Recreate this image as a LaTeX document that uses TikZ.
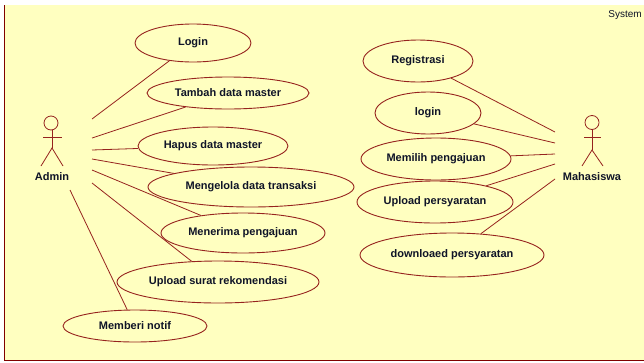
\documentclass[tikz,border=0pt]{standalone}
\usepackage{fontspec}
\setmainfont{Liberation Sans}
\usetikzlibrary{shapes.geometric}
\definecolor{bgyellow}{RGB}{255,255,192}
\definecolor{framered}{RGB}{128,0,0}
\definecolor{ucline}{RGB}{150,35,30}
\definecolor{txt}{RGB}{15,20,40}
\begin{document}
\begin{tikzpicture}[x=1pt,y=-1pt,
  usecase/.style={ellipse,draw=ucline,line width=0.9pt,inner sep=0pt,
    font=\bfseries\fontsize{11}{13}\selectfont,text=txt},
  assoc/.style={draw=ucline,line width=0.8pt},
  stick/.style={draw=ucline,line width=0.8pt},
  actorlbl/.style={font=\bfseries\fontsize{11}{13}\selectfont,text=txt,inner sep=0pt},
  syslbl/.style={font=\fontsize{10}{12}\selectfont,text=txt,inner sep=0pt}]
\useasboundingbox (0,0) rectangle (644,362);
\fill[white] (0,0) rectangle (644,362);
\fill[bgyellow] (4,5) rectangle (644,361);
\draw[framered,line width=1pt] (4.5,5) -- (4.5,360.5) -- (644,360.5);
\node[syslbl,anchor=north east] (system) at (642,10) {System};

% Admin actor
\draw[stick] (51,123) circle[radius=7pt];
\draw[stick] (52,130) -- (52,148);
\draw[stick] (43,137.5) -- (62,137.5);
\draw[stick] (41,166) -- (52,148) -- (63,166);
\node[actorlbl] (admin) at (52,177) {Admin};

% Mahasiswa actor
\draw[stick] (592,122.5) circle[radius=7pt];
\draw[stick] (592,129.5) -- (592,150);
\draw[stick] (584,137.5) -- (601,137.5);
\draw[stick] (582,166) -- (592,150) -- (603,166);
\node[actorlbl] (mhs) at (592,177) {Mahasiswa};

% Admin use cases
\node[usecase,minimum width=116pt,minimum height=38pt] (login) at (193,43) {Login};
\node[usecase,minimum width=162pt,minimum height=32pt] (tambah) at (228,93) {Tambah data master};
\node[usecase,minimum width=150pt,minimum height=38pt] (hapus) at (213,146) {Hapus data master};
\node[usecase,minimum width=206pt,minimum height=40pt] (kelola) at (251,187) {Mengelola data transaksi};
\node[usecase,minimum width=164pt,minimum height=40pt] (terima) at (243,233) {Menerima pengajuan};
\node[usecase,minimum width=202pt,minimum height=42pt] (surat) at (218,282) {Upload surat rekomendasi};
\node[usecase,minimum width=144pt,minimum height=32pt] (notif) at (135,326) {Memberi notif};

% Mahasiswa use cases
\node[usecase,minimum width=110pt,minimum height=42pt] (regis) at (418,61) {Registrasi};
\node[usecase,minimum width=106pt,minimum height=42pt] (login2) at (428,113) {login};
\node[usecase,minimum width=150pt,minimum height=42pt] (pilih) at (436,159) {Memilih pengajuan};
\node[usecase,minimum width=156pt,minimum height=42pt] (upsyarat) at (435,202) {Upload persyaratan};
\node[usecase,minimum width=184pt,minimum height=44pt] (downsyarat) at (452,255) {downloaed persyaratan};

% connector start points
\coordinate (a1) at (92,119);
\coordinate (a2) at (92,138);
\coordinate (a3) at (92,150);
\coordinate (a4) at (92,159);
\coordinate (a5) at (92,170);
\coordinate (a6) at (92,183);
\coordinate (a7) at (70,190);
\coordinate (m1) at (555,132);
\coordinate (m2) at (555,143);
\coordinate (m3) at (555,154);
\coordinate (m4) at (555,164);
\coordinate (m5) at (555,179);

\draw[assoc] (a1) -- (login);
\draw[assoc] (a2) -- (tambah);
\draw[assoc] (a3) -- (hapus);
\draw[assoc] (a4) -- (kelola);
\draw[assoc] (a5) -- (terima);
\draw[assoc] (a6) -- (surat);
\draw[assoc] (a7) -- (notif);
\draw[assoc] (m1) -- (regis);
\draw[assoc] (m2) -- (login2);
\draw[assoc] (m3) -- (pilih);
\draw[assoc] (m4) -- (upsyarat);
\draw[assoc] (m5) -- (downsyarat);
\end{tikzpicture}
\end{document}
